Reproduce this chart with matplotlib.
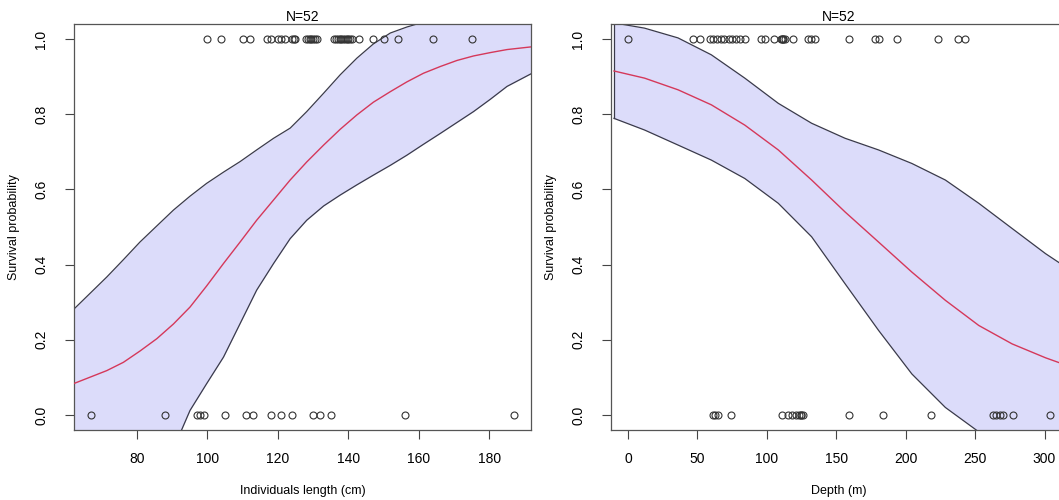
import matplotlib
matplotlib.use("Agg")
import matplotlib.pyplot as plt

plt.rcParams['font.family'] = ['Liberation Sans', 'DejaVu Sans']

# ---- left panel: survival vs individual length ----
len_alive = [100, 104, 110, 112, 117, 118, 120, 121, 122, 124, 124.5, 125,
             128, 128.5, 129, 129.5, 130, 130.5, 131,
             136, 136.5, 137, 137.5, 138, 138.5, 139, 139.5, 140, 140.5, 141,
             143, 147, 150, 154, 164, 175]
len_dead = [67, 88, 97, 98, 99, 105, 111, 113, 118, 121, 124, 130, 132, 135, 156, 187]

len_x = [62, 71.5, 76.2, 80.9, 85.7, 90.4, 95.1, 99.8, 104.6, 109.3, 114, 118.8,
         123.5, 128.2, 133, 137.7, 142.4, 147.1, 151.9, 156.6, 161.3, 166.1, 170.8,
         175.5, 180.3, 185, 191.7]
len_fit = [0.083, 0.118, 0.14, 0.17, 0.203, 0.242, 0.287, 0.343, 0.403, 0.46, 0.518,
           0.572, 0.625, 0.673, 0.718, 0.76, 0.798, 0.832, 0.86, 0.886, 0.909, 0.927,
           0.943, 0.955, 0.964, 0.972, 0.979]
len_upper = [0.28, 0.367, 0.413, 0.46, 0.503, 0.545, 0.582, 0.616, 0.646, 0.674, 0.705,
             0.736, 0.763, 0.807, 0.856, 0.905, 0.949, 0.987, 1.016, 1.032, 1.045, 1.06,
             1.07, 1.08, 1.09, 1.1, 1.1]
len_lower = [-0.2, -0.18, -0.16, -0.14, -0.12, -0.09, 0.012, 0.083, 0.154, 0.243, 0.332,
             0.403, 0.469, 0.518, 0.556, 0.585, 0.612, 0.638, 0.664, 0.691, 0.72, 0.749,
             0.778, 0.807, 0.84, 0.874, 0.907]

# ---- right panel: survival vs depth ----
depth_alive = [0, 47, 52, 59, 61, 64, 67, 69, 73, 75, 78, 81, 84, 96, 99, 105, 110,
               111, 112, 112, 113, 119, 130, 132, 135, 159, 178, 181, 194, 223, 238, 243]
depth_dead = [61, 63, 65, 74, 111, 115, 118, 121, 123, 125, 125, 126, 159, 184, 218,
              263, 265, 268, 270, 277, 304]

depth_x = [-10, 12, 36.1, 60.1, 84.2, 108.3, 132.3, 156.4, 180.5, 204.5, 228.6,
           252.7, 276.7, 300.8, 311.4, 316.2]
depth_fit = [0.915, 0.896, 0.865, 0.825, 0.771, 0.705, 0.625, 0.54, 0.46, 0.38, 0.305,
             0.238, 0.189, 0.152, 0.138, 0.132]
depth_upper = [1.043, 1.029, 1.003, 0.958, 0.896, 0.829, 0.776, 0.736, 0.705, 0.669,
               0.625, 0.563, 0.496, 0.429, 0.403, 0.39]
depth_lower = [0.789, 0.758, 0.718, 0.678, 0.629, 0.563, 0.474, 0.349, 0.225, 0.109,
               0.02, -0.045, -0.1, -0.14, -0.15, -0.16]

fill_col = '#dcdcfa'
edge_col = '#3a3a4a'
fit_col = '#d5385a'


def panel(ax, x, fit, lo, hi, alive, dead, xlim, xticks, xlabel):
    ax.fill_between(x, lo, hi, color=fill_col, lw=0, zorder=1)
    ax.plot(x, hi, color=edge_col, lw=0.9, zorder=2)
    ax.plot(x, lo, color=edge_col, lw=0.9, zorder=2)
    ax.plot([x[0], x[0]], [lo[0], hi[0]], color=edge_col, lw=0.9, zorder=2)
    ax.plot(x, fit, color=fit_col, lw=1.0, zorder=3)
    ax.plot(alive, [1] * len(alive), 'o', ms=5, mfc='none', mec='#333333', mew=0.8, zorder=4)
    ax.plot(dead, [0] * len(dead), 'o', ms=5, mfc='none', mec='#333333', mew=0.8, zorder=4)
    ax.set_xlim(*xlim)
    ax.set_ylim(-0.04, 1.04)
    ax.set_xticks(xticks)
    ax.set_yticks([0, 0.2, 0.4, 0.6, 0.8, 1.0])
    ax.set_yticklabels(['0.0', '0.2', '0.4', '0.6', '0.8', '1.0'], rotation=90, va='center')
    ax.tick_params(axis='both', length=6.5, width=0.8, color='#444444', labelsize=10)
    ax.tick_params(axis='y', pad=12)
    ax.tick_params(axis='x', pad=9)
    for s in ax.spines.values():
        s.set_color('#555555')
        s.set_linewidth(0.9)
    ax.set_xlabel(xlabel, fontsize=9, labelpad=14)
    ax.set_ylabel('Survival probability', fontsize=9, labelpad=10)
    ax.set_title('N=52', fontsize=10, pad=2)


fig = plt.figure(figsize=(10.59, 5.0), dpi=100)
ax1 = fig.add_axes([74 / 1059, 0.14, 457 / 1059, 0.812])
ax2 = fig.add_axes([611 / 1059, 0.14, 456 / 1059, 0.812])

panel(ax1, len_x, len_fit, len_lower, len_upper, len_alive, len_dead,
      (62.2, 191.8), [80, 100, 120, 140, 160, 180], 'Individuals length (cm)')
panel(ax2, depth_x, depth_fit, depth_lower, depth_upper, depth_alive, depth_dead,
      (-12.16, 316.2), [0, 50, 100, 150, 200, 250, 300], 'Depth (m)')

fig.savefig('out.png', dpi=100)
